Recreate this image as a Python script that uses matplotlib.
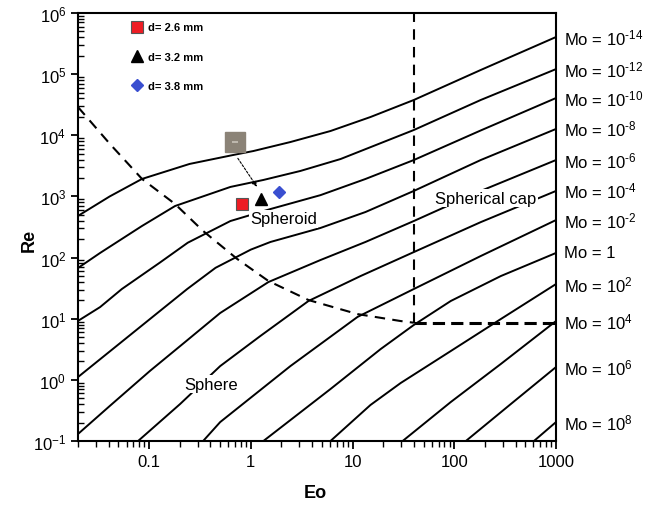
import matplotlib.pyplot as plt
from matplotlib.ticker import LogLocator, NullFormatter

plt.rcParams['font.family'] = ['Liberation Sans', 'DejaVu Sans']
plt.rcParams['mathtext.fontset'] = 'custom'
plt.rcParams['mathtext.rm'] = 'Liberation Sans'
plt.rcParams['mathtext.it'] = 'Liberation Sans:italic'
plt.rcParams['mathtext.bf'] = 'Liberation Sans:bold'

# Morton number labels, top curve first
mo_labels = ["Mo = 10$^{\\text{-14}}$", "Mo = 10$^{\\text{-12}}$", "Mo = 10$^{\\text{-10}}$",
             "Mo = 10$^{\\text{-8}}$", "Mo = 10$^{\\text{-6}}$", "Mo = 10$^{\\text{-4}}$",
             "Mo = 10$^{\\text{-2}}$", "Mo = 1", "Mo = 10$^{2}$", "Mo = 10$^{4}$",
             "Mo = 10$^{6}$", "Mo = 10$^{8}$"]

# Re(Eo) curves
eo_1 = [0.02, 0.041, 0.085, 0.25, 0.67, 1.06, 2.45, 6.07, 15.0, 40, 182, 1000]
re_1 = [480, 1000, 1930, 3400, 4760, 5530, 7760, 11750, 19900, 37800, 117000, 405000]
eo_2 = [0.02, 0.033, 0.085, 0.18, 0.63, 1.33, 3.07, 7.62, 40, 182, 1000]
re_2 = [67.5, 119, 328, 697, 1430, 1860, 2610, 4090, 12200, 37800, 121000]
eo_3 = [0.02, 0.033, 0.054, 0.128, 0.24, 0.63, 1.56, 4.84, 13.4, 40, 182, 1000]
re_3 = [9.2, 15.5, 30.6, 83, 175, 396, 622, 1050, 1930, 3940, 12000, 40700]
eo_4 = [0.02, 0.052, 0.128, 0.237, 0.45, 1.0, 1.56, 4.84, 13.4, 40, 182, 1000]
re_4 = [1.11, 4.0, 13.4, 30.6, 68, 135, 180, 305, 556, 1230, 3940, 12700]
eo_5 = [0.02, 0.041, 0.102, 0.226, 0.50, 1.49, 4.84, 13.4, 40, 182, 1000]
re_5 = [0.13, 0.373, 1.40, 4.16, 12.4, 39.8, 91.2, 180, 396, 1230, 3940]
eo_6 = [0.078, 0.202, 0.50, 1.24, 3.69, 12.0, 40, 182, 1000]
re_6 = [0.1, 0.403, 1.68, 5.21, 19.5, 49.9, 123, 380, 1230]
eo_7 = [0.34, 0.50, 2.45, 11.2, 40, 182, 1000]
re_7 = [0.1, 0.204, 1.68, 10.7, 30.6, 106, 411]
eo_8 = [1.33, 6.07, 18.9, 40, 92.4, 287, 1000]
re_8 = [0.1, 0.708, 3.19, 7.9, 19.5, 49.9, 119]
eo_9 = [6.07, 15.0, 29.7, 92.4, 287, 1000]
re_9 = [0.1, 0.388, 0.887, 2.96, 9.89, 36.9]
eo_10 = [31.1, 92.4, 287, 1000]
re_10 = [0.1, 0.434, 1.82, 9.16]
eo_11 = [130, 360, 1000]
re_11 = [0.1, 0.403, 1.62]
eo_12 = [607, 1000]
re_12 = [0.1, 0.204]

curves = [(eo_1, re_1), (eo_2, re_2), (eo_3, re_3), (eo_4, re_4), (eo_5, re_5), (eo_6, re_6),
          (eo_7, re_7), (eo_8, re_8), (eo_9, re_9), (eo_10, re_10), (eo_11, re_11), (eo_12, re_12)]

# regime boundaries
bound_eo = [0.02, 0.0413, 0.0853, 0.18, 0.34, 0.736, 1.49, 3.69, 11.2, 29.7, 40]
bound_re = [29000, 7190, 1930, 752, 272, 94.7, 41.4, 20.2, 11.9, 9.16, 8.6]
cap_eo = 40
cap_re = 8.6

# measured bubbles
bubble_labels = ["d= 2.6 mm", "d= 3.2 mm", "d= 3.8 mm"]
bubble_eo = [0.824, 1.27, 1.91]
bubble_re = [752, 908, 1180]

x_ticks = [0.1, 1, 10, 100, 1000]
x_ticklabels = ['0.1', '1', '10', '100', '1000']
y_ticks = [1e-1, 1, 1e1, 1e2, 1e3, 1e4, 1e5, 1e6]

fig = plt.figure(figsize=(6.46, 5.06), dpi=100)
ax = fig.add_axes([0.1207, 0.1265, 0.74, 0.8458])

for (eo, re), lab in zip(curves, mo_labels):
    ax.plot(eo, re, color='black', lw=1.4)
    ax.annotate(lab, xy=(eo[-1], re[-1]), xytext=(6, 0), textcoords='offset points',
                va='center', ha='left', fontsize=12, annotation_clip=False)

ax.plot(bound_eo, bound_re, color='black', lw=1.5, linestyle=(0, (5, 3.5)))
ax.plot([cap_eo, cap_eo], [cap_re, 1e6], color='black', lw=1.5, linestyle=(0, (5, 3.5)))
ax.plot([cap_eo, 1000], [cap_re, cap_re], color='black', lw=2.2, linestyle=(0, (4, 2)))

# region labels
box = dict(facecolor='white', edgecolor='none', pad=1)
ax.text(2.09, 428, "Spheroid", fontsize=12, ha='center', va='center', bbox=box)
ax.text(0.408, 0.855, "Sphere", fontsize=12, ha='center', va='center', bbox=box)
ax.text(204, 942, "Spherical cap", fontsize=12, ha='center', va='center', bbox=box)

# bubble image and arrow
ax.plot([0.695], [7760], marker='s', ms=15, color='#8b8377', zorder=5)
ax.plot([0.695], [7900], marker='_', ms=5, mew=1.2, color='#c8c2b8', zorder=6)
ax.annotate('', xy=(1.19, 1320), xytext=(0.72, 4580),
            arrowprops=dict(arrowstyle='-|>', linestyle=(0, (2, 1.5)), lw=0.8,
                            color='black', mutation_scale=7))

h1, = ax.plot([bubble_eo[0]], [bubble_re[0]], 's', ms=8, color='#ee1c24', mec='#555555', mew=0.8,
              ls='none', zorder=6)
h2, = ax.plot([bubble_eo[1]], [bubble_re[1]], '^', ms=9, color='black', ls='none', zorder=6)
h3, = ax.plot([bubble_eo[2]], [bubble_re[2]], 'D', ms=6.5, color='#3a4fd0', ls='none', zorder=6)
ax.legend([h1, h2, h3], bubble_labels, loc='upper left', bbox_to_anchor=(0.112, 0.978),
          frameon=False, prop={'weight': 'bold', 'size': 8},
          handlelength=1.0, handletextpad=0.5, labelspacing=1.75, borderaxespad=0, borderpad=0)

ax.set_xscale('log')
ax.set_yscale('log')
ax.set_xlim(0.02, 1000)
ax.set_ylim(0.1, 1e6)
ax.set_xticks(x_ticks)
ax.set_xticklabels(x_ticklabels)
ax.set_yticks(y_ticks)
ax.xaxis.set_minor_locator(LogLocator(base=10, subs=range(2, 10), numticks=20))
ax.xaxis.set_minor_formatter(NullFormatter())
ax.yaxis.set_minor_locator(LogLocator(base=10, subs=range(2, 10), numticks=20))
ax.yaxis.set_minor_formatter(NullFormatter())

ax.tick_params(axis='x', which='major', direction='out', length=6, width=1.3, labelsize=12)
ax.tick_params(axis='x', which='minor', direction='out', length=4, width=1.0)
ax.tick_params(axis='y', which='major', direction='out', length=5, width=1.3, labelsize=12)
ax.tick_params(axis='y', which='minor', direction='in', length=4, width=1.0)
for s in ax.spines.values():
    s.set_linewidth(1.5)

ax.set_xlabel("Eo", fontsize=13, fontweight='bold')
ax.set_ylabel("Re", fontsize=13, fontweight='bold')
ax.xaxis.set_label_coords(0.496, -0.100)
ax.yaxis.set_label_coords(-0.084, 0.472)

fig.savefig("out.png", dpi=100)
